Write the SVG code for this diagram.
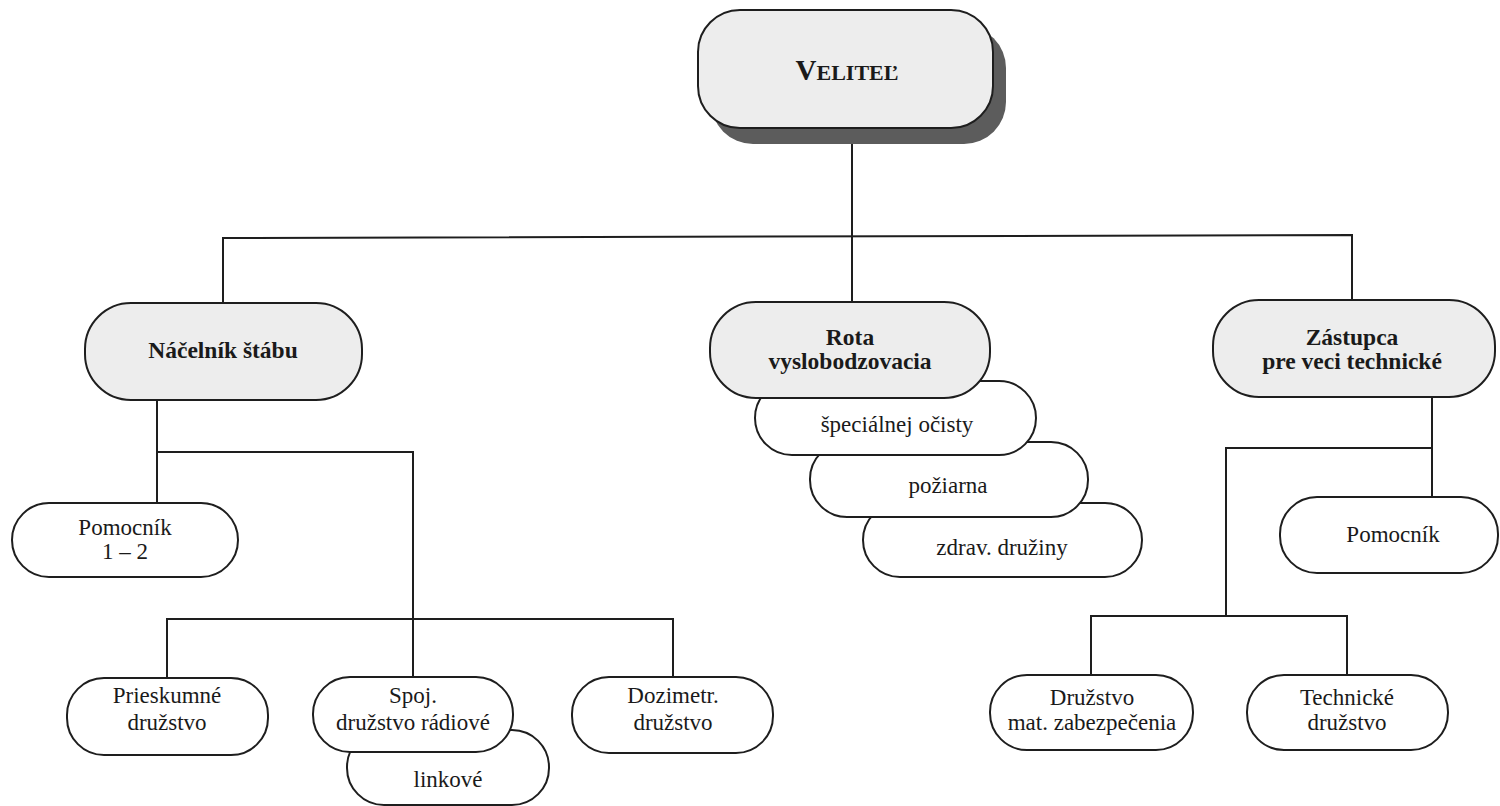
<svg xmlns="http://www.w3.org/2000/svg" width="1500" height="806" viewBox="0 0 1500 806">
<style>
.box{fill:#ffffff;stroke:#1e1e1e;stroke-width:2}
.gbox{fill:#ededed;stroke:#1e1e1e;stroke-width:2}
.t{font-family:"Liberation Serif","Times New Roman",serif;font-size:23px;fill:#1a1a1a;text-anchor:middle}
.b{font-family:"Liberation Serif","Times New Roman",serif;font-size:23.5px;font-weight:bold;fill:#1a1a1a;text-anchor:middle}
.c{fill:none;stroke:#1e1e1e;stroke-width:2}
</style>
<rect width="1500" height="806" fill="#ffffff"/>
<g id="connectors">
<path class="c" d="M852,140 V302"/>
<path class="c" d="M223,303 V238 L1352,235 V300"/>
<path class="c" d="M157,400 V503"/>
<path class="c" d="M157,452 H413 V677"/>
<path class="c" d="M167,678 V619 H673 V677"/>
<path class="c" d="M1432,397 V497"/>
<path class="c" d="M1432,448 H1226 V616"/>
<path class="c" d="M1091,675 V616 H1347 V675"/>
</g>
<g id="velitel">
<rect x="711" y="26" width="295" height="118" rx="42" fill="#5c5c5c"/>
<rect class="gbox" x="698" y="10" width="295" height="118" rx="42"/>
<text x="847" y="80" font-family="Liberation Serif, Times New Roman, serif" font-weight="bold" fill="#1a1a1a" text-anchor="middle"><tspan font-size="29px">V</tspan><tspan font-size="22px">ELITEĽ</tspan></text>
</g>
<g id="nacelnik">
<rect class="gbox" x="85" y="303" width="277" height="97" rx="46"/>
<text class="b" x="223" y="358">Náčelník štábu</text>
</g>
<g id="zdrav">
<rect class="box" x="863" y="503" width="279" height="74" rx="37"/>
<text class="t" x="1002" y="555">zdrav. družiny</text>
</g>
<g id="poziarna">
<rect class="box" x="810" y="442" width="278" height="75" rx="37"/>
<text class="t" x="948" y="493">požiarna</text>
</g>
<g id="specialnej">
<rect class="box" x="755" y="381" width="281" height="74" rx="37"/>
<text class="t" x="897" y="432">špeciálnej očisty</text>
</g>
<g id="rota">
<rect class="gbox" x="710" y="302" width="280" height="96" rx="46"/>
<text class="b" x="850" y="345">Rota</text>
<text class="b" x="850" y="369">vyslobodzovacia</text>
</g>
<g id="zastupca">
<rect class="gbox" x="1213" y="300" width="282" height="97" rx="46"/>
<text class="b" x="1352" y="345">Zástupca</text>
<text class="b" x="1352" y="369">pre veci technické</text>
</g>
<g id="pomocnik12">
<rect class="box" x="12" y="503" width="226" height="74" rx="37"/>
<text class="t" x="125" y="535">Pomocník</text>
<text class="t" x="125" y="559">1 – 2</text>
</g>
<g id="pomocnik">
<rect class="box" x="1280" y="497" width="218" height="76" rx="37"/>
<text class="t" x="1393" y="542">Pomocník</text>
</g>
<g id="prieskumne">
<rect class="box" x="67" y="678" width="201" height="77" rx="37"/>
<text class="t" x="167" y="703">Prieskumné</text>
<text class="t" x="167" y="730">družstvo</text>
</g>
<g id="linkove">
<rect class="box" x="347" y="730" width="202" height="75" rx="37"/>
<text class="t" x="448" y="787">linkové</text>
</g>
<g id="spoj">
<rect class="box" x="313" y="677" width="200" height="75" rx="37"/>
<text class="t" x="413" y="703">Spoj.</text>
<text class="t" x="413" y="730">družstvo rádiové</text>
</g>
<g id="dozimetr">
<rect class="box" x="572" y="677" width="201" height="76" rx="37"/>
<text class="t" x="673" y="703">Dozimetr.</text>
<text class="t" x="673" y="730">družstvo</text>
</g>
<g id="druzstvo-mat">
<rect class="box" x="990" y="675" width="203" height="75" rx="37"/>
<text class="t" x="1092" y="705">Družstvo</text>
<text class="t" x="1092" y="730">mat. zabezpečenia</text>
</g>
<g id="technicke">
<rect class="box" x="1247" y="675" width="201" height="75" rx="37"/>
<text class="t" x="1347" y="705">Technické</text>
<text class="t" x="1347" y="730">družstvo</text>
</g>
</svg>
